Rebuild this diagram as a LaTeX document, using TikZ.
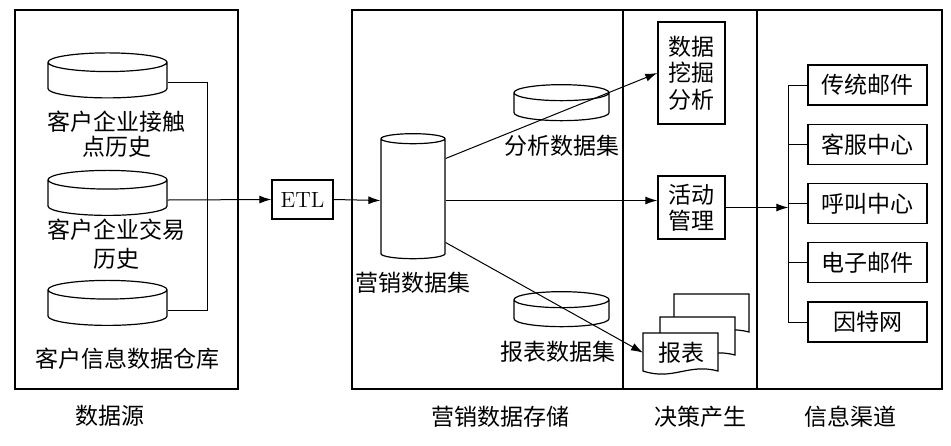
\documentclass[tikz,border=0pt]{standalone}
\usepackage{fontspec}
\newfontfamily\cjk{Noto Sans CJK SC}
\usetikzlibrary{arrows.meta,positioning,calc,shapes.geometric}
\tikzset{
  frame/.style={draw, line width=0.8pt},
  store/.style={
    draw,
    cylinder,
    shape border rotate=90,
    shape aspect=1.4,
    line width=0.6pt,
    minimum width=59.5pt,
    minimum height=22.5pt
  },
  tag/.style={
    font=\cjk\fontsize{11.5}{12.5}\selectfont,
    align=center,
    inner sep=0pt
  },
  block/.style={
    draw,
    rectangle,
    line width=0.7pt,
    align=center,
    inner sep=0pt,
    font=\cjk\fontsize{11.5}{13}\selectfont
  },
  page/.style={draw, fill=white, line width=0.6pt},
  link/.style={line width=0.5pt},
  flow/.style={
    -{Latex[length=6pt,width=4pt]},
    line width=0.5pt
  }
}

\begin{document}
\begin{tikzpicture}[x=0.5pt, y=-0.5pt]
\useasboundingbox (0,0) rectangle (951,445);

% panels
\draw[frame] (15,10) rectangle (238,389);
\draw[frame] (352,10) rectangle (942,389);
\draw[frame] (623,10) -- (623,389);
\draw[frame] (757,10) -- (757,389);

\node[tag] (capsrc) at (110,416) {数据源};
\node[tag] (capstore) at (500,417) {营销数据存储};
\node[tag] (capdec) at (700,417) {决策产生};
\node[tag] (capchan) at (850,417) {信息渠道};

% data sources
\node[store] (touch) at (107.5,82.5) {};
\node[store] (trade) at (107.5,200) {};
\node[store] (dwh) at (107.5,310) {};
\node[tag, below=6pt of touch, xshift=4.5pt] (touchtxt) {客户企业接触\\点历史};
\node[tag, below=1.5pt of trade, xshift=4.5pt, font=\cjk\fontsize{11.5}{14.5}\selectfont] (tradetxt) {客户企业交易\\历史};
\node[tag, below=11pt of dwh, xshift=10pt] (dwhtxt) {客户信息数据仓库};

\draw[link] (touch.east) -- ++(40,0) |- (dwh.east);

% ETL and marketing data
\node[block, font=\fontsize{11}{13}\selectfont, minimum width=30.5pt, minimum height=19.5pt] (etl) at (302.5,199.5) {ETL};
\node[store, shape aspect=0.75, minimum width=32pt, minimum height=62.5pt] (mkt) at (413,200.5) {};
\node[tag, below=6pt of mkt] (mkttxt) {营销数据集};
\node[store, shape aspect=1.2, minimum width=47.5pt, minimum height=18pt] (ana) at (561.5,109) {};
\node[tag, below=6.5pt of ana] (anatxt) {分析数据集};
\node[store, shape aspect=1.2, minimum width=47.5pt, minimum height=17.5pt] (rep) at (561.5,315.5) {};
\node[tag, below=6.5pt of rep, xshift=-2pt] (reptxt) {报表数据集};

\draw[flow] (trade.east) -- (etl.west);
\draw[flow] (etl.east) -- (mkt.west);

% decisions
\node[block, minimum width=33.5pt, minimum height=51pt, font=\cjk\fontsize{11.5}{13.3}\selectfont] (mine) at (691.5,73) {数据\\挖掘\\分析};
\node[block, minimum width=33.5pt, minimum height=31.5pt] (act) at (691.5,207.5) {活动\\管理};

\coordinate (doc) at (643,333);
\foreach \dx/\dy in {31/-39, 17/-16, 0/0}
  \draw[page] ($(doc)+(\dx,\dy)$) -- ++(75,0) -- ++(0,38)
    .. controls +(-30,-8) and +(30,10) .. ++(-75,0) -- cycle;
\node[block, draw=none, minimum width=37.5pt, minimum height=19pt, anchor=north west] (rpt) at (doc) {报表};

\draw[flow] ([yshift=21pt]mkt.east) -- (mine.west);
\draw[flow] (mkt.east) -- (act.west |- mkt.east);
\draw[flow] ([yshift=-21pt]mkt.east) -- (rpt.west);

% channels
\foreach \name/\txt [count=\i] in {post/传统邮件, svc/客服中心, call/呼叫中心, mail/电子邮件, web/因特网}
  \node[block, minimum width=59.5pt, minimum height=20pt] (\name) at (867.5,25.75+59.25*\i) {\txt};

\coordinate[left=9.5pt of post.west] (bus);
\draw[link] (post.west) -- (bus) |- (web.west);
\foreach \name in {svc,call,mail}
  \draw[link] (\name.west) -- (\name.west -| bus);
\draw[flow] (act.east) -- (act.east -| bus);

\end{tikzpicture}
\end{document}
